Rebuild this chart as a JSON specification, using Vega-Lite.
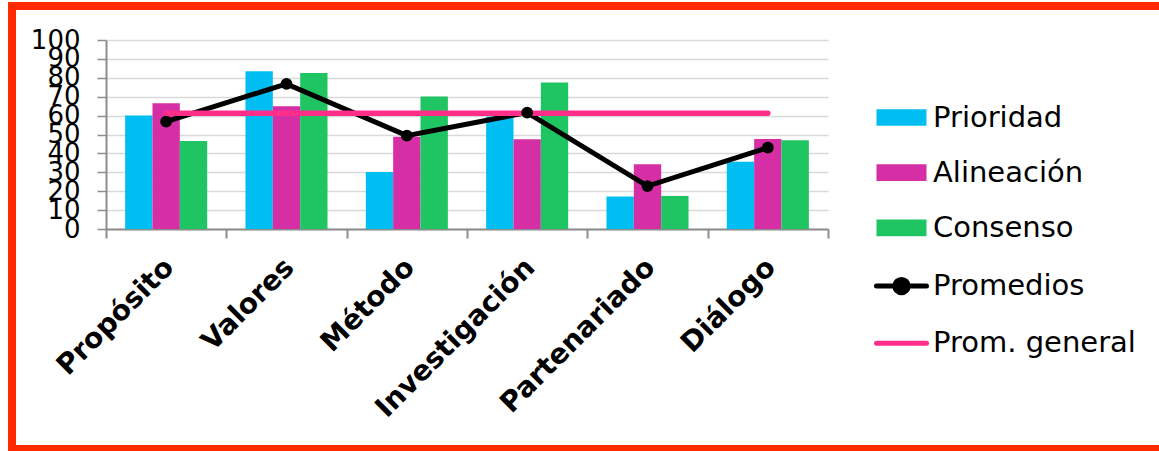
{
  "$schema": "https://vega.github.io/schema/vega-lite/v6.json",
  "autosize": "none",
  "width": 1147,
  "height": 443,
  "padding": {"left": 12, "top": 6, "right": 0, "bottom": 2},
  "background": "white",
  "config": {
    "font": "DejaVu Sans",
    "view": {"stroke": "#FF2A00", "strokeWidth": 8, "strokeDash": [1147, 443, 4000]}
  },
  "datasets": {
    "barras": [
      {"cat": "Propósito", "serie": "Prioridad", "valor": 60},
      {"cat": "Propósito", "serie": "Alineación", "valor": 66.5},
      {"cat": "Propósito", "serie": "Consenso", "valor": 46.5},
      {"cat": "Valores", "serie": "Prioridad", "valor": 83.5},
      {"cat": "Valores", "serie": "Alineación", "valor": 65},
      {"cat": "Valores", "serie": "Consenso", "valor": 82.6},
      {"cat": "Método", "serie": "Prioridad", "valor": 30.2},
      {"cat": "Método", "serie": "Alineación", "valor": 48.8},
      {"cat": "Método", "serie": "Consenso", "valor": 70.1},
      {"cat": "Investigación", "serie": "Prioridad", "valor": 59.5},
      {"cat": "Investigación", "serie": "Alineación", "valor": 47.5},
      {"cat": "Investigación", "serie": "Consenso", "valor": 77.5},
      {"cat": "Partenariado", "serie": "Prioridad", "valor": 17.2},
      {"cat": "Partenariado", "serie": "Alineación", "valor": 34.2},
      {"cat": "Partenariado", "serie": "Consenso", "valor": 17.5},
      {"cat": "Diálogo", "serie": "Prioridad", "valor": 35.6},
      {"cat": "Diálogo", "serie": "Alineación", "valor": 47.6},
      {"cat": "Diálogo", "serie": "Consenso", "valor": 47}
    ],
    "promedios": [
      {"cat": "Propósito", "valor": 56.8},
      {"cat": "Valores", "valor": 76.8},
      {"cat": "Método", "valor": 49.4},
      {"cat": "Investigación", "valor": 61.6},
      {"cat": "Partenariado", "valor": 22.7},
      {"cat": "Diálogo", "valor": 43.1}
    ],
    "general": [
      {"cat": "Propósito", "valor": 61.3},
      {"cat": "Valores", "valor": 61.3},
      {"cat": "Método", "valor": 61.3},
      {"cat": "Investigación", "valor": 61.3},
      {"cat": "Partenariado", "valor": 61.3},
      {"cat": "Diálogo", "valor": 61.3}
    ]
  },
  "encoding": {
    "x": {
      "field": "cat",
      "type": "nominal",
      "sort": ["Propósito", "Valores", "Método", "Investigación", "Partenariado", "Diálogo"],
      "scale": {"range": [94, 816], "paddingInner": 0, "paddingOuter": 0},
      "axis": {
        "title": null,
        "orient": "bottom",
        "offset": -220,
        "tickBand": "extent",
        "labelAngle": -45,
        "labelAlign": "right",
        "labelBaseline": "middle",
        "labelFontSize": 28,
        "labelFontWeight": "bold",
        "labelColor": "#000000",
        "labelPadding": 25,
        "labelOffset": 3,
        "labelLimit": 400,
        "tickSize": 9,
        "tickWidth": 2,
        "tickColor": "#8c8c8c",
        "domainColor": "#8c8c8c",
        "domainWidth": 2,
        "grid": false
      }
    },
    "y": {
      "field": "valor",
      "type": "quantitative",
      "scale": {"domain": [0, 100], "range": [223, 34], "nice": false},
      "axis": {
        "title": null,
        "offset": -94,
        "values": [0, 10, 20, 30, 40, 50, 60, 70, 80, 90, 100],
        "labelOverlap": false,
        "labelFontSize": 26,
        "labelColor": "#000000",
        "labelPadding": 17,
        "tickSize": 9,
        "tickWidth": 1.5,
        "tickColor": "#8c8c8c",
        "domainColor": "#8c8c8c",
        "domainWidth": 2,
        "grid": true,
        "gridColor": "#d9d9d9",
        "gridWidth": 1.5
      }
    }
  },
  "layer": [
    {
      "data": {"name": "barras"},
      "mark": {"type": "bar"},
      "encoding": {
        "xOffset": {
          "field": "serie",
          "type": "nominal",
          "sort": ["Prioridad", "Alineación", "Consenso"],
          "scale": {"paddingInner": 0, "paddingOuter": 0.7}
        },
        "color": {
          "field": "serie",
          "type": "nominal",
          "scale": {
            "domain": ["Prioridad", "Alineación", "Consenso", "Promedios", "Prom. general"],
            "range": ["#00BEF2", "#D62FA6", "#1FC463", "#000000", "#FF2E89"]
          },
          "legend": {
            "orient": "none",
            "legendX": 875,
            "legendY": 97,
            "title": null,
            "padding": 0,
            "labelFontSize": 29,
            "labelFont": "DejaVu Sans",
            "labelColor": "#000000",
            "labelLimit": 400,
            "symbolSize": 1111,
            "rowPadding": 25.2,
            "labelOffset": 17,
            "encode": {
              "symbols": {
                "update": {
                  "shape": {"signal": "datum.value === 'Promedios' ? 'M-1.5,0H1.5M0.4,0A0.4,0.4 0 1 1 -0.4,0A0.4,0.4 0 1 1 0.4,0Z' : datum.value === 'Prom. general' ? 'M-1.5,0H1.5' : 'M-1.5,-0.5H1.5V0.5H-1.5Z'"},
                  "stroke": {"signal": "datum.value === 'Promedios' ? '#000000' : datum.value === 'Prom. general' ? '#FF2E89' : 'transparent'"},
                  "strokeWidth": {"signal": "datum.value === 'Promedios' || datum.value === 'Prom. general' ? 5 : 0"},
                  "strokeCap": {"value": "round"},
                  "opacity": {"value": 1},
                  "fillOpacity": {"value": 1}
                }
              }
            }
          }
        }
      }
    },
    {
      "data": {"name": "promedios"},
      "mark": {"type": "line", "color": "#000000", "strokeWidth": 5},
      "encoding": {}
    },
    {
      "data": {"name": "general"},
      "mark": {"type": "line", "color": "#FF2E89", "strokeWidth": 5.5, "strokeCap": "round"},
      "encoding": {}
    },
    {
      "data": {"name": "promedios"},
      "mark": {"type": "circle", "color": "#000000", "size": 140, "opacity": 1},
      "encoding": {}
    }
  ]
}
